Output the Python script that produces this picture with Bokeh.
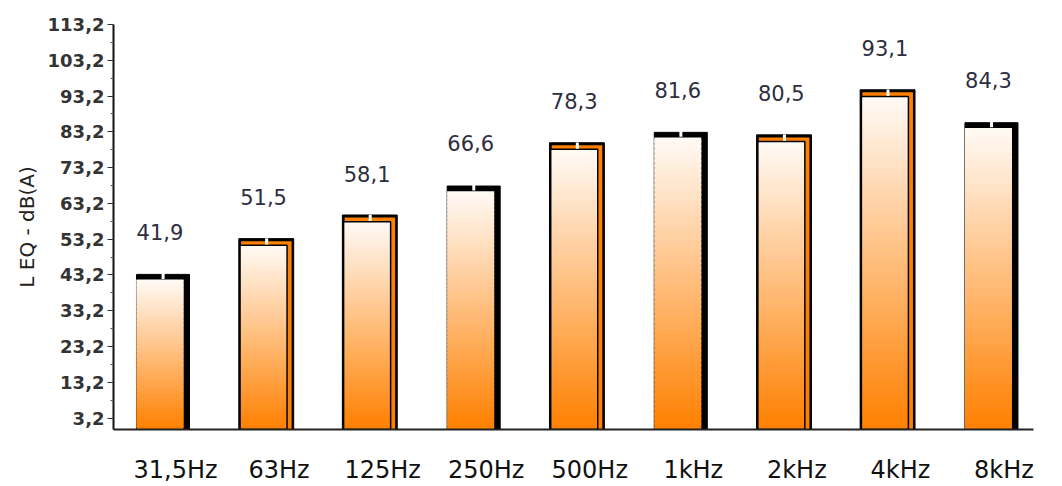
import numpy as np
from bokeh.plotting import figure
from bokeh.models import Range1d, FixedTicker, ColumnDataSource
from bokeh.core.properties import value
from bokeh.embed import file_html
from bokeh.resources import INLINE

# ---- data ----
categories = ["31,5Hz", "63Hz", "125Hz", "250Hz", "500Hz", "1kHz", "2kHz", "4kHz", "8kHz"]
leq_values = [41.9, 51.5, 58.1, 66.6, 78.3, 81.6, 80.5, 93.1, 84.3]
value_labels = ["41,9", "51,5", "58,1", "66,6", "78,3", "81,6", "80,5", "93,1", "84,3"]
y_ticks = [3.2, 13.2, 23.2, 33.2, 43.2, 53.2, 63.2, 73.2, 83.2, 93.2, 103.2, 113.2]
y_tick_labels = ["3,2", "13,2", "23,2", "33,2", "43,2", "53,2", "63,2", "73,2", "83,2", "93,2", "103,2", "113,2"]

# ---- style ----
edge_style = ["dark", "light", "light", "dark", "light", "dark", "light", "light", "dark"]
FONT = "DejaVu Sans"
bar_w = 0.454
shadow_dx = 0.058
shadow_dy = 1.45
top_col = np.array([255, 250, 246])
bot_col = np.array([255, 128, 0])

p = figure(width=1062, height=486, output_backend="svg", toolbar_location=None,
           x_range=Range1d(-0.449, 8.435), y_range=Range1d(0, 113.2),
           min_border_left=113, min_border_right=29, min_border_top=24, min_border_bottom=56)
p.outline_line_color = None
p.xgrid.visible = False
p.ygrid.visible = False
p.background_fill_color = "white"

xs = np.arange(len(categories), dtype=float)
vals = np.array(leq_values)
dark = np.array([s == "dark" for s in edge_style])
light = ~dark

# dark shadows
d = ColumnDataSource(dict(l=xs[dark] - bar_w / 2, r=xs[dark] + bar_w / 2 + shadow_dx,
                          t=vals[dark] + shadow_dy, b=np.zeros(dark.sum())))
p.quad(left="l", right="r", top="t", bottom="b", source=d, fill_color="black", line_color="black", line_width=1)

# light shadows: black outline + orange strip
l1 = ColumnDataSource(dict(l=xs[light] - bar_w / 2 - 0.012, r=xs[light] + bar_w / 2 + shadow_dx + 0.006,
                           t=vals[light] + shadow_dy + 0.4, b=np.zeros(light.sum())))
p.quad(left="l", right="r", top="t", bottom="b", source=l1, fill_color="black", line_color="black", line_width=1)
l2 = ColumnDataSource(dict(l=xs[light] - bar_w / 2 + 0.01, r=xs[light] + bar_w / 2 + shadow_dx - 0.014,
                           t=vals[light] + shadow_dy - 0.3, b=np.zeros(light.sum())))
p.quad(left="l", right="r", top="t", bottom="b", source=l2, fill_color="#FF8000", line_color=None)

# gradient bars built from slices of each value (slices overlap to avoid seams)
N = 60
L, R, T, B, C = [], [], [], [], []
for x, v in zip(xs, vals):
    for k in range(N):
        f0, f1 = k / N, (k + 1) / N
        frac = (k + 0.5) / N  # 0 bottom, 1 top
        col = bot_col + (top_col - bot_col) * frac
        L.append(x - bar_w / 2)
        R.append(x + bar_w / 2)
        B.append(v * f0)
        T.append(min(v, v * f1 + 0.6))
        C.append("#%02x%02x%02x" % tuple(int(round(c)) for c in col))
g = ColumnDataSource(dict(l=L, r=R, t=T, b=B, c=C))
p.quad(left="l", right="r", top="t", bottom="b", source=g, fill_color="c", line_color=None)

# black outline on light bars
lo = ColumnDataSource(dict(x=xs[light], t=vals[light]))
p.vbar(x="x", top="t", bottom=0, width=bar_w, source=lo, fill_color=None, line_color="black", line_width=1.5)

# small gap in the top edge
gp = ColumnDataSource(dict(x=xs + 0.03, y0=vals + 0.2, y1=vals + shadow_dy + 0.5))
p.segment(x0="x", x1="x", y0="y0", y1="y1", source=gp, line_color="white", line_width=3)

# value labels
lab = ColumnDataSource(dict(x=xs, y=vals, t=value_labels))
p.text(x="x", y="y", text="t", source=lab, text_align="center", text_baseline="middle",
       y_offset=-48, text_font=value(FONT), text_font_size="21px", text_color="#2e2e40")

# axes
p.yaxis.ticker = FixedTicker(ticks=y_ticks, minor_ticks=[t + 5 for t in y_ticks[:-1]])
p.yaxis.major_label_overrides = {t: s for t, s in zip(y_ticks, y_tick_labels)}
p.yaxis.major_label_text_font = FONT
p.yaxis.major_label_text_font_style = "bold"
p.yaxis.major_label_text_font_size = "18px"
p.yaxis.major_label_text_color = "#333333"
p.yaxis.major_label_standoff = 3
p.yaxis.major_tick_in = 0
p.yaxis.major_tick_out = 6
p.yaxis.minor_tick_in = 0
p.yaxis.minor_tick_out = 3
p.yaxis.axis_line_width = 2
p.yaxis.axis_line_color = "#111111"
p.yaxis.major_tick_line_color = "#333333"
p.yaxis.minor_tick_line_color = "#555555"
p.yaxis.axis_label = "L EQ - dB(A)"
p.yaxis.axis_label_text_font = FONT
p.yaxis.axis_label_text_font_style = "normal"
p.yaxis.axis_label_text_font_size = "20px"
p.yaxis.axis_label_text_color = "#222222"
p.yaxis.axis_label_standoff = 6

x_ticks = [float(x) + 0.15 for x in xs]
p.xaxis.ticker = FixedTicker(ticks=x_ticks, minor_ticks=[])
p.xaxis.major_label_overrides = {t: c for t, c in zip(x_ticks, categories)}
p.xaxis.major_label_text_font = FONT
p.xaxis.major_label_text_font_size = "24px"
p.xaxis.major_label_text_color = "#111111"
p.xaxis.major_label_standoff = 20
p.xaxis.major_tick_line_color = None
p.xaxis.minor_tick_line_color = None
p.xaxis.axis_line_width = 2
p.xaxis.axis_line_color = "#222222"

open("out.html", "w").write(file_html(p, INLINE))
